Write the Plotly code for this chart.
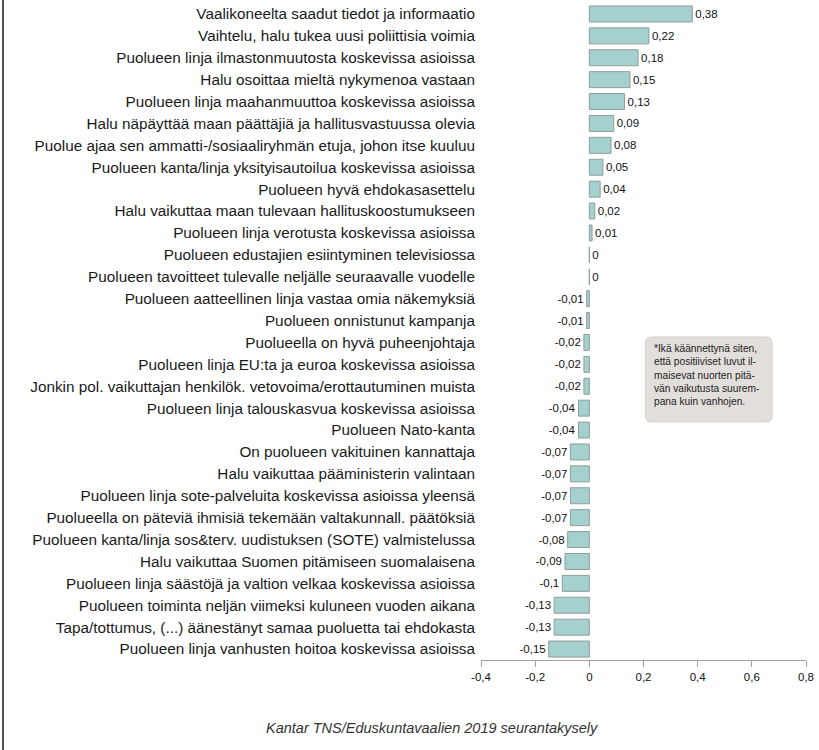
import plotly.graph_objects as go

categories = [
    "Vaalikoneelta saadut tiedot ja informaatio",
    "Vaihtelu, halu tukea uusi poliittisia voimia",
    "Puolueen linja ilmastonmuutosta koskevissa asioissa",
    "Halu osoittaa mieltä nykymenoa vastaan",
    "Puolueen linja maahanmuuttoa koskevissa asioissa",
    "Halu näpäyttää maan päättäjiä ja hallitusvastuussa olevia",
    "Puolue ajaa sen ammatti-/sosiaaliryhmän etuja, johon itse kuuluu",
    "Puolueen kanta/linja yksityisautoilua koskevissa asioissa",
    "Puolueen hyvä ehdokasasettelu",
    "Halu vaikuttaa maan tulevaan hallituskoostumukseen",
    "Puolueen linja verotusta koskevissa asioissa",
    "Puolueen edustajien esiintyminen televisiossa",
    "Puolueen tavoitteet tulevalle neljälle seuraavalle vuodelle",
    "Puolueen aatteellinen linja vastaa omia näkemyksiä",
    "Puolueen onnistunut kampanja",
    "Puolueella on hyvä puheenjohtaja",
    "Puolueen linja EU:ta ja euroa koskevissa asioissa",
    "Jonkin pol. vaikuttajan henkilök. vetovoima/erottautuminen muista",
    "Puolueen linja talouskasvua koskevissa asioissa",
    "Puolueen Nato-kanta",
    "On puolueen vakituinen kannattaja",
    "Halu vaikuttaa pääministerin valintaan",
    "Puolueen linja sote-palveluita koskevissa asioissa yleensä",
    "Puolueella on päteviä ihmisiä tekemään valtakunnall. päätöksiä",
    "Puolueen kanta/linja sos&terv. uudistuksen (SOTE) valmistelussa",
    "Halu vaikuttaa Suomen pitämiseen suomalaisena",
    "Puolueen linja säästöjä ja valtion velkaa koskevissa asioissa",
    "Puolueen toiminta neljän viimeksi kuluneen vuoden aikana",
    "Tapa/tottumus, (...) äänestänyt samaa puoluetta tai ehdokasta",
    "Puolueen linja vanhusten hoitoa koskevissa asioissa",
]
values = [0.38, 0.22, 0.18, 0.15, 0.13, 0.09, 0.08, 0.05, 0.04, 0.02, 0.01, 0, 0,
          -0.01, -0.01, -0.02, -0.02, -0.02, -0.04, -0.04, -0.07, -0.07, -0.07,
          -0.07, -0.08, -0.09, -0.1, -0.13, -0.13, -0.15]
tick_vals = [-0.4, -0.2, 0, 0.2, 0.4, 0.6, 0.8]
tick_text = ["-0,4", "-0,2", "0", "0,2", "0,4", "0,6", "0,8"]
note_lines = [
    "*Ikä käännettynä siten,",
    "että positiiviset luvut il-",
    "maisevat nuorten pitä-",
    "vän vaikutusta suurem-",
    "pana kuin vanhojen.",
]
caption = "Kantar TNS/Eduskuntavaalien 2019 seurantakysely"


def fmt(v):
    return ("%g" % v).replace(".", ",")


labels = [fmt(v) for v in values]

fig = go.Figure()
fig.add_trace(go.Bar(
    x=values, y=categories, orientation="h",
    marker=dict(color="#a4d0cd", line=dict(color="#8e9d9c", width=1)),
    text=labels, textposition="outside", cliponaxis=False,
    textfont=dict(family="Liberation Sans, Arial", size=11.5, color="#111111"),
    hoverinfo="skip",
))

# plot area geometry (pixels)
L, R, T, B = 481, 13, 3, 90
W = 819 - L - R
H = 750 - T - B

# rounded note box in data coords
x0, x1 = 0.207, 0.675
y0, y1 = 14.75, 18.63
rx, ry = 6 / 271, 6 / 21.9
path = (f"M {x0+rx},{y0} L {x1-rx},{y0} Q {x1},{y0} {x1},{y0+ry} "
        f"L {x1},{y1-ry} Q {x1},{y1} {x1-rx},{y1} L {x0+rx},{y1} "
        f"Q {x0},{y1} {x0},{y1-ry} L {x0},{y0+ry} Q {x0},{y0} {x0+rx},{y0} Z")

fig.update_layout(
    width=819, height=750,
    margin=dict(l=L, r=R, t=T, b=B, autoexpand=False),
    paper_bgcolor="white", plot_bgcolor="white",
    showlegend=False, bargap=0.27,
    separators=", ",
    font=dict(family="Liberation Sans, Arial", color="#1a1a1a"),
    xaxis=dict(
        range=[-0.4, 0.8], tickvals=tick_vals, ticktext=tick_text,
        showgrid=False, zeroline=False, showline=True, linecolor="#a0a0a0",
        linewidth=1, ticks="outside", ticklen=6, tickcolor="#a0a0a0",
        tickfont=dict(size=11.5, color="#111111"),
    ),
    yaxis=dict(
        autorange="reversed", showgrid=False, zeroline=False, showline=False,
        ticks="", ticklabelstandoff=5,
        tickfont=dict(size=15.3, color="#1a1a1a"),
    ),
    shapes=[
        dict(type="path", path=path, xref="x", yref="y",
             fillcolor="#e2dedc", line=dict(color="#d6d2d0", width=1), layer="below"),
        dict(type="line", xref="paper", yref="paper",
             x0=(3 - L) / W, x1=(3 - L) / W, y0=-B / H, y1=1 + T / H,
             line=dict(color="#555555", width=2)),
    ],
    annotations=[
        dict(text="<br>".join(note_lines), xref="x", yref="y",
             x=0.232, y=14.92, xanchor="left", yanchor="top", align="left",
             showarrow=False,
             font=dict(family="Liberation Sans Narrow, Liberation Sans, Arial",
                       size=10.2, color="#222222")),
        dict(text="<i>" + caption + "</i>", xref="paper", yref="paper",
             x=(432 - L) / W, y=-(728 - (T + H)) / H, xanchor="center",
             yanchor="middle", showarrow=False,
             font=dict(family="Liberation Sans Narrow, Liberation Sans, Arial",
                       size=14.5, color="#333333")),
    ],
)

fig.write_html("out.html", config={"displayModeBar": False},
               post_script="document.body.style.margin='0';")
